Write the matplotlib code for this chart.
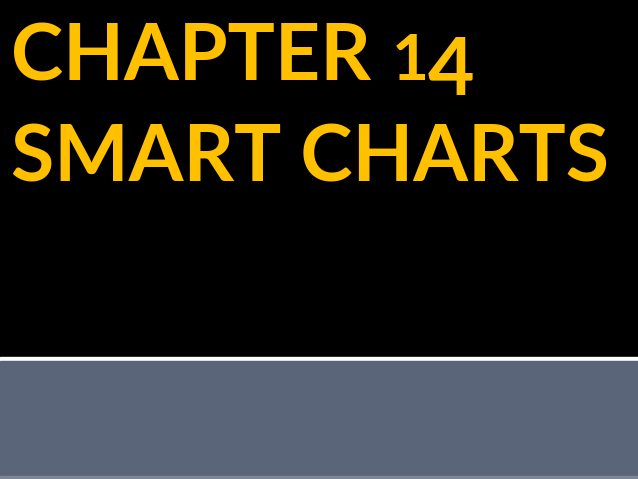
import matplotlib
matplotlib.use("Agg")
import matplotlib.pyplot as plt
from matplotlib.patches import Rectangle

W, H = 638, 479

# title text, split so the "14" can be set with old-style figures
line1_word = "CHAPTER"
line1_digits = ["1", "4"]
line2 = "SMART CHARTS"
text_color = "#FFC000"
panel_color = "#5b6579"

fig = plt.figure(figsize=(W / 100, H / 100), dpi=100, facecolor="black")
ax = fig.add_axes([0, 0, 1, 1])
ax.set_xlim(0, W)
ax.set_ylim(H, 0)
ax.axis("off")
ax.set_facecolor("black")

ax.add_patch(Rectangle((0, 0), W, 357, color="black"))
ax.add_patch(Rectangle((0, 357), W, 4, color="white"))
ax.add_patch(Rectangle((0, 361), W, H - 361, color=panel_color))
ax.add_patch(Rectangle((0, 476), W, 3, color="#7d8597"))

font = dict(color=text_color, family="Lato", fontweight="bold",
            va="baseline", ha="left")

ax.text(11, 80, line1_word, fontsize=56.8, **font)
# old-style figures: short "1", descending "4"
ax.text(392, 80, line1_digits[0], fontsize=46, **font)
ax.text(428, 95, line1_digits[1], fontsize=58, **font)

ax.text(11, 181, line2, fontsize=56.7, **font)

fig.savefig("out.png", dpi=100, facecolor="black")
